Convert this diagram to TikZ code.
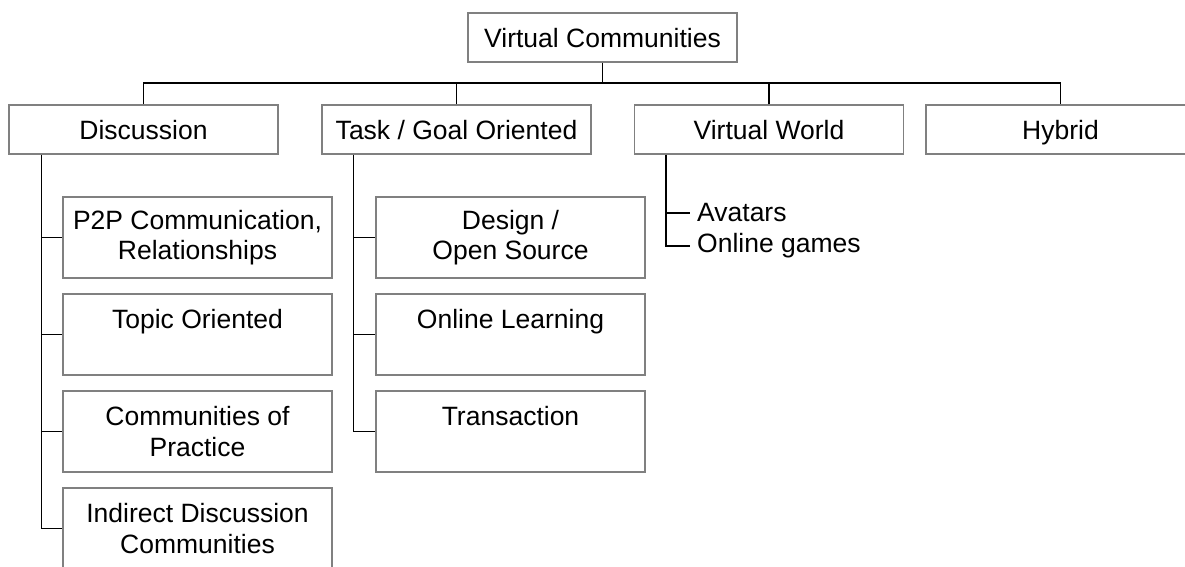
\documentclass[tikz,border=0pt]{standalone}
\usepackage{fontspec}
\setmainfont{Liberation Sans}
\begin{document}
\begin{tikzpicture}[x=1pt,y=-1pt,
  box/.style={draw=black!50,line width=1.4pt,fill=white,minimum width=269pt,
    inner sep=0pt,align=center,font=\fontsize{26.5}{30.5}\selectfont},
  headbox/.style={box,minimum height=49pt,text height=19.5pt,text depth=0pt},
  leafbox/.style={box,minimum height=81pt},
  link/.style={draw=black,line width=1.6pt},
  item/.style={anchor=west,inner sep=0pt,font=\fontsize{26.5}{30.5}\selectfont}]
\clip (0,0) rectangle (1185,567);
\fill[white] (0,0) rectangle (1185,567);

% root and first level
\node[headbox] (root) at (602.5,37.5) {Virtual Communities};
\node[headbox] (disc) at (143.5,129.5) {Discussion};
\node[headbox] (task) at (456.5,129.5) {Task / Goal Oriented};
\node[headbox] (vw)   at (769,129.5)   {Virtual World};
\node[headbox] (hyb)  at (1060.5,129.5) {Hybrid};
\coordinate (bar) at (0,83);

\draw[link] (root.south) -- (root.south |- bar);
\draw[link] (disc.north) -- (disc.north |- bar) -| (hyb.north);
\draw[link] (task.north) -- (task.north |- bar);
\draw[link] (vw.north) -- (vw.north |- bar);

% discussion branch
\node[leafbox] (d1) at (197.5,237.5) {P2P Communication,\\Relationships};
\node[leafbox] (d2) at (197.5,334.5) {Topic Oriented\\\mbox{}};
\node[leafbox] (d3) at (197.5,431.5) {Communities of\\Practice};
\node[leafbox] (d4) at (197.5,528.5) {Indirect Discussion\\Communities};
\coordinate (dtrunk) at ([xshift=33pt]disc.south west);
\draw[link] (dtrunk) |- (d4.west);
\foreach \n in {d1,d2,d3} \draw[link] (dtrunk |- \n.west) -- (\n.west);

% task / goal branch
\node[leafbox] (t1) at (510.5,237.5) {Design /\\Open Source};
\node[leafbox] (t2) at (510.5,334.5) {Online Learning\\\mbox{}};
\node[leafbox] (t3) at (510.5,431.5) {Transaction\\\mbox{}};
\coordinate (ttrunk) at ([xshift=32pt]task.south west);
\draw[link] (ttrunk) |- (t3.west);
\foreach \n in {t1,t2} \draw[link] (ttrunk |- \n.west) -- (\n.west);

% virtual world branch
\coordinate (vtrunk) at ([xshift=32pt]vw.south west);
\node[item] (v1) at (697,213) {Avatars};
\node[item] (v2) at (697,246) {Online games};
\draw[link] (vtrunk) |- ([xshift=-7pt]v2.west);
\draw[link] (vtrunk |- v1.west) -- ([xshift=-7pt]v1.west);
\end{tikzpicture}
\end{document}
